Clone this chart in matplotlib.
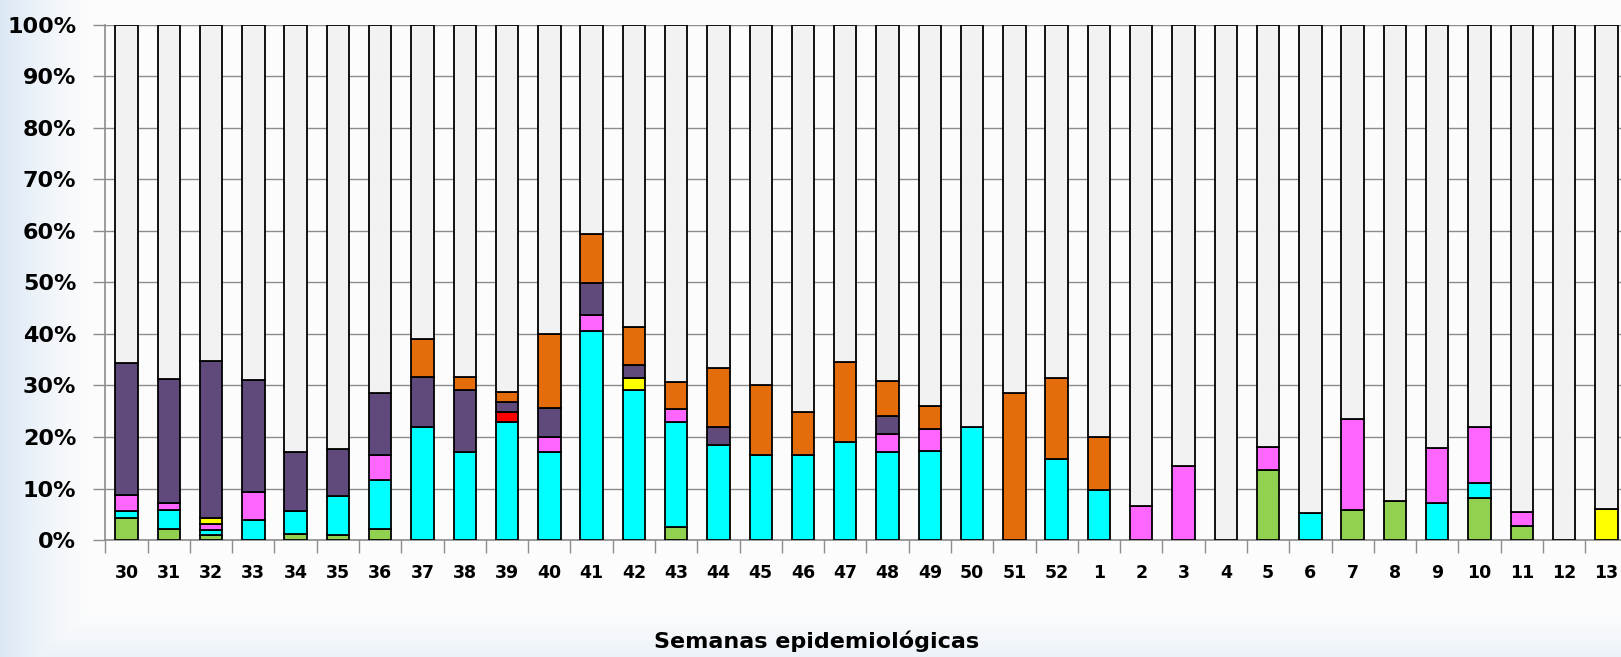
import numpy as np
import matplotlib.pyplot as plt

# semanas epidemiologicas
semanas = ['30', '31', '32', '33', '34', '35', '36', '37', '38', '39', '40', '41',
           '42', '43', '44', '45', '46', '47', '48', '49', '50', '51', '52', '1',
           '2', '3', '4', '5', '6', '7', '8', '9', '10', '11', '12', '13']

# porcentajes de cada segmento (de abajo hacia arriba)
verde = [4.35, 2.2, 0.9, 0, 1.2, 1.0, 2.2, 0, 0, 0, 0, 0,
         0, 2.5, 0, 0, 0, 0, 0, 0, 0, 0, 0, 0,
         0, 0, 0, 13.5, 0, 5.8, 7.6, 0, 8.2, 2.7, 0, 0]
cian = [1.3, 3.7, 1.05, 3.9, 4.4, 7.6, 9.5, 21.9, 17.0, 22.9, 17.0, 40.5,
        29.1, 20.5, 18.4, 16.5, 16.5, 19.1, 17.0, 17.3, 22.0, 0, 15.7, 9.8,
        0, 0, 0, 0, 5.2, 0, 0, 7.1, 2.8, 0, 0, 0]
magenta = [3.15, 1.2, 1.15, 5.45, 0, 0, 4.9, 0, 0, 0, 2.9, 3.1,
           0, 2.5, 0, 0, 0, 0, 3.6, 4.3, 0, 0, 0, 0,
           6.55, 14.3, 0, 4.5, 0, 17.7, 0, 10.7, 11.0, 2.8, 0, 0]
amarillo = [0, 0, 1.2, 0, 0, 0, 0, 0, 0, 0, 0, 0,
            2.4, 0, 0, 0, 0, 0, 0, 0, 0, 0, 0, 0,
            0, 0, 0, 0, 0, 0, 0, 0, 0, 0, 0, 6.1]
rojo = [0, 0, 0, 0, 0, 0, 0, 0, 0, 1.9, 0, 0,
        0, 0, 0, 0, 0, 0, 0, 0, 0, 0, 0, 0,
        0, 0, 0, 0, 0, 0, 0, 0, 0, 0, 0, 0]
morado = [25.6, 24.1, 30.4, 21.65, 11.4, 9.0, 11.9, 9.7, 12.2, 2.0, 5.7, 6.3,
          2.5, 0, 3.6, 0, 0, 0, 3.5, 0, 0, 0, 0, 0,
          0, 0, 0, 0, 0, 0, 0, 0, 0, 0, 0, 0]
naranja = [0, 0, 0, 0, 0, 0, 0, 7.4, 2.4, 2.0, 14.4, 9.4,
           7.4, 5.2, 11.3, 13.5, 8.4, 15.5, 6.8, 4.5, 0, 28.5, 15.8, 10.1,
           0, 0, 0, 0, 0, 0, 0, 0, 0, 0, 0, 0]

series = [verde, cian, magenta, amarillo, rojo, morado, naranja]
colores = ['#92d050', '#00ffff', '#ff66ff', '#ffff00', '#ff0000', '#604a7b', '#e46c0a']

# el resto hasta 100% en gris
total = np.sum(np.array(series), axis=0)
resto = 100 - total

fig = plt.figure(figsize=(16.21, 6.57), dpi=100)
fig.patch.set_facecolor('#fdfdfd')

# fondo con degradado azul a la izquierda y abajo
bg = fig.add_axes([0, 0, 1, 1], zorder=-10)
gx = np.linspace(0, 1, 400)
gy = np.linspace(0, 1, 200)[:, None]
grad = np.clip(1 - gx / 0.06, 0, 1) ** 1.5
grad = np.maximum(grad[None, :], 0.5 * np.clip(1 - gy / 0.08, 0, 1) ** 1.5)
img = np.ones((200, 400, 3))
azul = np.array([0.86, 0.91, 0.96])
for c in range(3):
    img[:, :, c] = 0.99 * (1 - grad) + azul[c] * grad
bg.imshow(img, aspect='auto', extent=[0, 1, 0, 1], origin='lower')
bg.axis('off')

ax = fig.add_axes([0.065, 0.178, 0.939, 0.7844])
ax.set_facecolor('#fcfcfc')

x = np.arange(len(semanas))
base = np.zeros(len(semanas))
for vals, col in zip(series, colores):
    vals = np.array(vals)
    ax.bar(x, vals, 0.53, bottom=base, color=col, edgecolor='black', linewidth=1.3, zorder=3)
    base = base + vals
ax.bar(x, resto, 0.53, bottom=base, color='#f2f2f2', edgecolor='black', linewidth=1.3, zorder=3)

ax.set_xlim(-0.5, len(semanas) - 0.5)
ax.set_ylim(0, 100)
ax.set_yticks(np.arange(0, 101, 10))
ax.set_yticklabels([f'{v}%' for v in range(0, 101, 10)], fontsize=16, fontweight='bold')
ax.yaxis.grid(True, color='#8c8c8c', linewidth=1.0, zorder=0)
ax.set_axisbelow(True)

ax.set_xticks(x)
ax.set_xticklabels(semanas, fontsize=12.5, fontweight='bold')
ax.set_xticks(np.arange(-0.5, len(semanas), 1), minor=True)
ax.tick_params(axis='x', which='major', length=0, pad=17)
ax.tick_params(axis='x', which='minor', length=9, color='#8c8c8c', width=1.0)
ax.tick_params(axis='y', length=9, color='#8c8c8c', width=1.0, pad=12)

for s in ['top', 'right']:
    ax.spines[s].set_visible(False)
for s in ['left', 'bottom']:
    ax.spines[s].set_color('#8c8c8c')
    ax.spines[s].set_linewidth(1.2)

fig.text(0.504, 0.008, 'Semanas epidemiológicas', ha='center', va='bottom',
         fontsize=16, fontweight='bold')

fig.savefig('out.png', dpi=100, facecolor=fig.get_facecolor())
